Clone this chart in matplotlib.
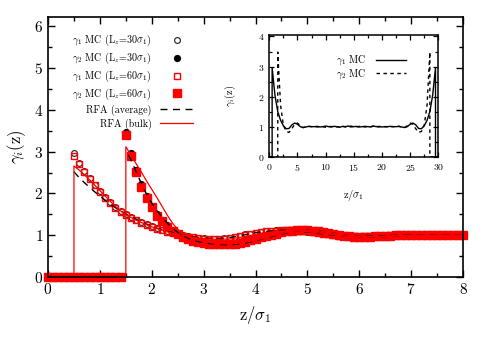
import numpy as np
import matplotlib.pyplot as plt
from matplotlib.ticker import MultipleLocator

plt.rcParams.update({
    "font.family": ["cmr10", "DejaVu Serif"],
    "mathtext.fontset": "cm",
    "axes.formatter.use_mathtext": True,
    "axes.unicode_minus": False,
})

# ---- MC data, Lz = 30 sigma1 (z step 0.1) ----
z_mc = np.round(np.arange(0, 81) * 0.1, 1)
g1_30 = [0, 0, 0, 0, 0,
         2.96, 2.74, 2.55, 2.37, 2.21, 2.05, 1.91, 1.79, 1.67, 1.57,
         1.50, 1.43, 1.37, 1.31, 1.26, 1.21, 1.17, 1.13, 1.09, 1.06,
         1.03, 1.00, 0.98, 0.96, 0.94, 0.93, 0.92, 0.92, 0.92, 0.93,
         0.94, 0.96, 0.99, 1.02, 1.04, 1.06, 1.08, 1.10, 1.11, 1.12,
         1.12, 1.12, 1.12, 1.11, 1.10, 1.08, 1.07, 1.05, 1.03, 1.02,
         1.00, 0.99, 0.98, 0.98, 0.97, 0.97, 0.97, 0.98, 0.98, 0.98,
         0.99, 0.99, 1.00, 1.00, 1.00, 1.01, 1.01, 1.00, 1.01, 1.00,
         1.00, 1.00, 1.01, 1.00, 1.00, 1.00]
g2_30 = [0, 0, 0, 0, 0, 0, 0, 0, 0, 0, 0, 0, 0, 0, 0,
         3.48, 2.97, 2.56, 2.22, 1.93, 1.71, 1.52, 1.37, 1.24, 1.13,
         1.05, 0.98, 0.93, 0.89, 0.86, 0.84, 0.82, 0.81, 0.80, 0.80,
         0.81, 0.82, 0.84, 0.87, 0.90, 0.93, 0.96, 0.99, 1.02, 1.05,
         1.08, 1.10, 1.12, 1.13, 1.13, 1.12, 1.11, 1.09, 1.07, 1.05,
         1.03, 1.01, 0.99, 0.98, 0.97, 0.97, 0.97, 0.97, 0.98, 0.98,
         0.99, 0.99, 1.00, 1.00, 1.01, 1.01, 1.01, 1.01, 1.00, 1.00,
         1.00, 1.00, 1.00, 1.00, 1.00, 1.00]

# ---- MC data, Lz = 60 sigma1 ----
g1_60 = [0, 0, 0, 0, 0,
         2.90, 2.70, 2.52, 2.35, 2.20, 2.04, 1.90, 1.78, 1.66, 1.56,
         1.49, 1.42, 1.36, 1.30, 1.25, 1.20, 1.16, 1.12, 1.08, 1.05,
         1.02, 0.99, 0.97, 0.95, 0.93, 0.92, 0.91, 0.91, 0.91, 0.92,
         0.93, 0.95, 0.98, 1.01, 1.03, 1.05, 1.07, 1.09, 1.10, 1.11,
         1.12, 1.12, 1.12, 1.11, 1.10, 1.09, 1.07, 1.05, 1.04, 1.02,
         1.00, 0.99, 0.98, 0.98, 0.98, 0.97, 0.98, 0.98, 0.98, 0.99,
         0.99, 1.00, 1.00, 1.00, 1.01, 1.01, 1.00, 1.00, 1.01, 1.00,
         1.00, 1.01, 1.00, 1.00, 1.00, 1.00]
g2_60 = [0, 0, 0, 0, 0, 0, 0, 0, 0, 0, 0, 0, 0, 0, 0,
         3.40, 2.90, 2.52, 2.16, 1.89, 1.67, 1.47, 1.33, 1.20, 1.10,
         1.02, 0.96, 0.91, 0.87, 0.84, 0.82, 0.80, 0.79, 0.78, 0.78,
         0.79, 0.80, 0.82, 0.85, 0.88, 0.92, 0.95, 0.98, 1.01, 1.04,
         1.07, 1.09, 1.11, 1.12, 1.12, 1.12, 1.11, 1.09, 1.07, 1.05,
         1.03, 1.01, 0.99, 0.98, 0.97, 0.97, 0.97, 0.97, 0.98, 0.98,
         0.99, 0.99, 1.00, 1.00, 1.00, 1.01, 1.01, 1.00, 1.00, 1.00,
         1.00, 1.00, 1.00, 1.00, 1.00, 1.00]

# ---- RFA (average), dashed ----
z_avg1 = [0.5, 0.6, 0.7, 0.8, 0.9, 1.0, 1.1, 1.2, 1.3, 1.4, 1.5, 1.75, 2.0,
          2.25, 2.5, 2.75, 3.0, 3.25, 3.5, 3.75, 4.0, 4.25, 4.5, 4.75, 5.0,
          5.25, 5.5, 5.75, 6.0, 6.25, 6.5, 6.75, 7.0, 7.5, 8.0]
g_avg1 = [2.52, 2.38, 2.26, 2.15, 2.04, 1.94, 1.84, 1.75, 1.66, 1.58, 1.51,
          1.35, 1.21, 1.11, 1.03, 0.97, 0.93, 0.92, 0.94, 1.00, 1.06, 1.10,
          1.12, 1.11, 1.08, 1.04, 1.00, 0.98, 0.97, 0.98, 0.99, 1.00, 1.01,
          1.00, 1.00]
z_avg2 = [1.55, 1.6, 1.7, 1.8, 1.9, 2.0, 2.1, 2.2, 2.3, 2.4, 2.5, 2.6, 2.7,
          2.8, 3.0, 3.25, 3.5, 3.75, 4.0, 4.25, 4.5, 4.75, 5.0, 5.25, 5.5,
          5.75, 6.0, 6.25, 6.5, 6.75, 7.0, 7.5, 8.0]
g_avg2 = [2.92, 2.80, 2.52, 2.24, 1.98, 1.77, 1.59, 1.43, 1.29, 1.17, 1.07,
          0.99, 0.93, 0.88, 0.82, 0.78, 0.77, 0.80, 0.87, 0.95, 1.03, 1.09,
          1.12, 1.10, 1.05, 1.00, 0.97, 0.96, 0.97, 0.99, 1.00, 1.00, 1.00]

# ---- RFA (bulk), red solid ----
z_blk1 = [0.0, 0.5, 0.5, 0.6, 0.7, 0.8, 0.9, 1.0, 1.1, 1.2, 1.3, 1.4, 1.5,
          1.75, 2.0, 2.25, 2.5, 2.75, 3.0, 3.25, 3.5, 3.75, 4.0, 4.25, 4.5,
          4.75, 5.0, 5.25, 5.5, 5.75, 6.0, 6.25, 6.5, 6.75, 7.0, 7.5, 8.0]
g_blk1 = [0.0, 0.0, 2.66, 2.56, 2.45, 2.33, 2.20, 2.07, 1.94, 1.81, 1.69,
          1.58, 1.49, 1.33, 1.20, 1.10, 1.02, 0.96, 0.92, 0.90, 0.91, 0.96,
          1.02, 1.07, 1.10, 1.11, 1.09, 1.05, 1.01, 0.98, 0.97, 0.97, 0.98,
          0.99, 1.00, 1.00, 1.00]
z_blk2 = [0.0, 1.5, 1.5, 1.6, 1.7, 1.8, 1.9, 2.0, 2.1, 2.2, 2.3, 2.4, 2.5,
          2.6, 2.7, 2.8, 3.0, 3.25, 3.5, 3.75, 4.0, 4.25, 4.5, 4.75, 5.0,
          5.25, 5.5, 5.75, 6.0, 6.25, 6.5, 6.75, 7.0, 7.5, 8.0]
g_blk2 = [0.0, 0.0, 3.12, 2.92, 2.71, 2.51, 2.30, 2.10, 1.90, 1.69, 1.48,
          1.29, 1.14, 1.03, 0.96, 0.91, 0.85, 0.80, 0.79, 0.82, 0.88, 0.96,
          1.04, 1.10, 1.12, 1.10, 1.05, 1.00, 0.97, 0.96, 0.97, 0.99, 1.00,
          1.00, 1.00]

# ---- inset: full MC profile over the slit, Lz = 30 sigma1 ----
z_in1 = [0.0, 0.5, 0.5, 1.0, 1.5, 2.0, 2.5, 3.0, 3.5, 4.0, 4.5, 5.0, 5.5,
         6.0, 6.5, 7.0, 7.5, 8.0, 8.5, 9.0, 9.5, 10.0, 10.5, 11.0, 11.5,
         12.0, 12.5, 13.0, 13.5, 14.0, 14.5, 15.0, 15.5, 16.0, 16.5, 17.0,
         17.5, 18.0, 18.5, 19.0, 19.5, 20.0, 20.5, 21.0, 21.5, 22.0, 22.5,
         23.0, 23.5, 24.0, 24.5, 25.0, 25.5, 26.0, 26.5, 27.0, 27.5, 28.0,
         28.5, 29.0, 29.5, 29.5, 30.0]
g_in1 = [0.0, 0.0, 2.96, 2.05, 1.50, 1.21, 1.03, 0.93, 0.94, 1.06, 1.12,
         1.08, 1.00, 0.97, 0.99, 1.01, 1.00, 1.00, 1.01, 0.99, 1.00, 1.02,
         1.00, 0.99, 1.01, 1.00, 0.98, 1.01, 1.00, 1.02, 0.99, 1.00, 1.01,
         0.99, 1.00, 1.01, 1.00, 0.99, 1.02, 1.00, 1.01, 0.99, 1.00, 1.00,
         1.01, 1.00, 1.00, 1.01, 0.99, 0.97, 1.00, 1.08, 1.12, 1.06, 0.94,
         0.93, 1.03, 1.21, 1.50, 2.05, 2.96, 0.0, 0.0]
z_in2 = [0.0, 1.5, 1.5, 2.0, 2.5, 3.0, 3.5, 4.0, 4.5, 5.0, 5.5, 6.0, 6.5,
         7.0, 7.5, 8.0, 8.5, 9.0, 9.5, 10.0, 10.5, 11.0, 11.5, 12.0, 12.5,
         13.0, 13.5, 14.0, 14.5, 15.0, 15.5, 16.0, 16.5, 17.0, 17.5, 18.0,
         18.5, 19.0, 19.5, 20.0, 20.5, 21.0, 21.5, 22.0, 22.5, 23.0, 23.5,
         24.0, 24.5, 25.0, 25.5, 26.0, 26.5, 27.0, 27.5, 28.0, 28.5, 28.5,
         30.0]
g_in2 = [0.0, 0.0, 3.48, 1.71, 1.05, 0.84, 0.81, 0.93, 1.08, 1.12, 1.03,
         0.97, 0.99, 1.01, 1.00, 1.00, 0.99, 1.01, 1.00, 0.98, 1.01, 1.00,
         1.02, 0.99, 1.00, 1.01, 0.99, 1.00, 1.02, 1.00, 0.99, 1.01, 1.00,
         0.99, 1.01, 1.00, 1.02, 1.00, 0.99, 1.01, 1.00, 0.99, 1.00, 1.00,
         1.00, 1.01, 0.99, 0.97, 1.03, 1.12, 1.08, 0.93, 0.81, 0.84, 1.05,
         1.71, 3.48, 0.0, 0.0]

RED = "#ff0000"

fig = plt.figure(figsize=(4.91, 3.43), dpi=100)
ax = fig.add_axes([0.0978, 0.1924, 0.8452, 0.7572])

ax.plot(z_mc, g1_30, ls="none", marker="o", ms=4.2, mfc="none", mec="#333333",
        mew=0.9, clip_on=False, label=r"$\gamma_1$ MC (L$_z$=30$\sigma_1$)")
ax.plot(z_mc, g2_30, ls="none", marker="o", ms=4.2, color="black",
        clip_on=False, label=r"$\gamma_2$ MC (L$_z$=30$\sigma_1$)")
ax.plot(z_mc, g1_60, ls="none", marker="s", ms=4.5, mfc="none", mec=RED,
        mew=1.0, clip_on=False, label=r"$\gamma_1$ MC (L$_z$=60$\sigma_1$)")
ax.plot(z_mc, g2_60, ls="none", marker="s", ms=5.2, color=RED,
        clip_on=False, label=r"$\gamma_2$ MC (L$_z$=60$\sigma_1$)")
ax.plot(z_avg1, g_avg1, color="black", lw=1.0, ls=(0, (5, 4)),
        label="RFA (average)")
ax.plot(z_avg2, g_avg2, color="black", lw=1.0, ls=(0, (5, 4)))
ax.plot(z_blk1, g_blk1, color=RED, lw=0.9, label="RFA (bulk)")
ax.plot(z_blk2, g_blk2, color=RED, lw=0.9)

ax.set_xlim(0, 8)
ax.set_ylim(0, 6.22)
ax.xaxis.set_major_locator(MultipleLocator(1))
ax.xaxis.set_minor_locator(MultipleLocator(0.5))
ax.yaxis.set_major_locator(MultipleLocator(1))
ax.yaxis.set_minor_locator(MultipleLocator(0.5))
ax.tick_params(which="both", direction="in", top=True, right=True,
               labelsize=11, width=1.0)
ax.tick_params(which="major", length=5)
ax.tick_params(which="minor", length=3)
for sp in ax.spines.values():
    sp.set_linewidth(1.2)
ax.set_xlabel(r"z/$\sigma_1$", fontsize=12, labelpad=5)
ax.set_ylabel(r"$\gamma_i$(z)", fontsize=12, labelpad=4)

ax.legend(loc="upper right", bbox_to_anchor=(0.36, 0.955), frameon=False,
          markerfirst=False, fontsize=7.2, handlelength=3.3,
          handletextpad=0.9, labelspacing=0.26, borderaxespad=0.0)

# ---- inset ----
axi = fig.add_axes([0.5485, 0.5431, 0.3442, 0.3549])
axi.plot(z_in1, g_in1, color="black", lw=1.0, label=r"$\gamma_1$ MC")
axi.plot(z_in2, g_in2, color="black", lw=1.0, ls=(0, (2.5, 2.5)),
         label=r"$\gamma_2$ MC")
axi.set_xlim(0, 30)
axi.set_ylim(0, 4.05)
axi.xaxis.set_major_locator(MultipleLocator(5))
axi.xaxis.set_minor_locator(MultipleLocator(2.5))
axi.yaxis.set_major_locator(MultipleLocator(1))
axi.yaxis.set_minor_locator(MultipleLocator(0.5))
axi.tick_params(which="both", direction="in", top=True, right=True,
                labelsize=7, width=0.9)
axi.tick_params(which="major", length=3.5)
axi.tick_params(which="minor", length=2)
for sp in axi.spines.values():
    sp.set_linewidth(1.1)
axi.set_xlabel(r"z/$\sigma_1$", fontsize=7.5, labelpad=11)
axi.set_ylabel(r"$\gamma_i$(z)", fontsize=7.5, labelpad=14)
axi.legend(loc="upper right", bbox_to_anchor=(0.83, 0.88), frameon=False,
           markerfirst=False, fontsize=7.2, handlelength=3.0,
           handletextpad=0.9, labelspacing=0.0, borderaxespad=0.0)

fig.savefig("out.png", dpi=100)
